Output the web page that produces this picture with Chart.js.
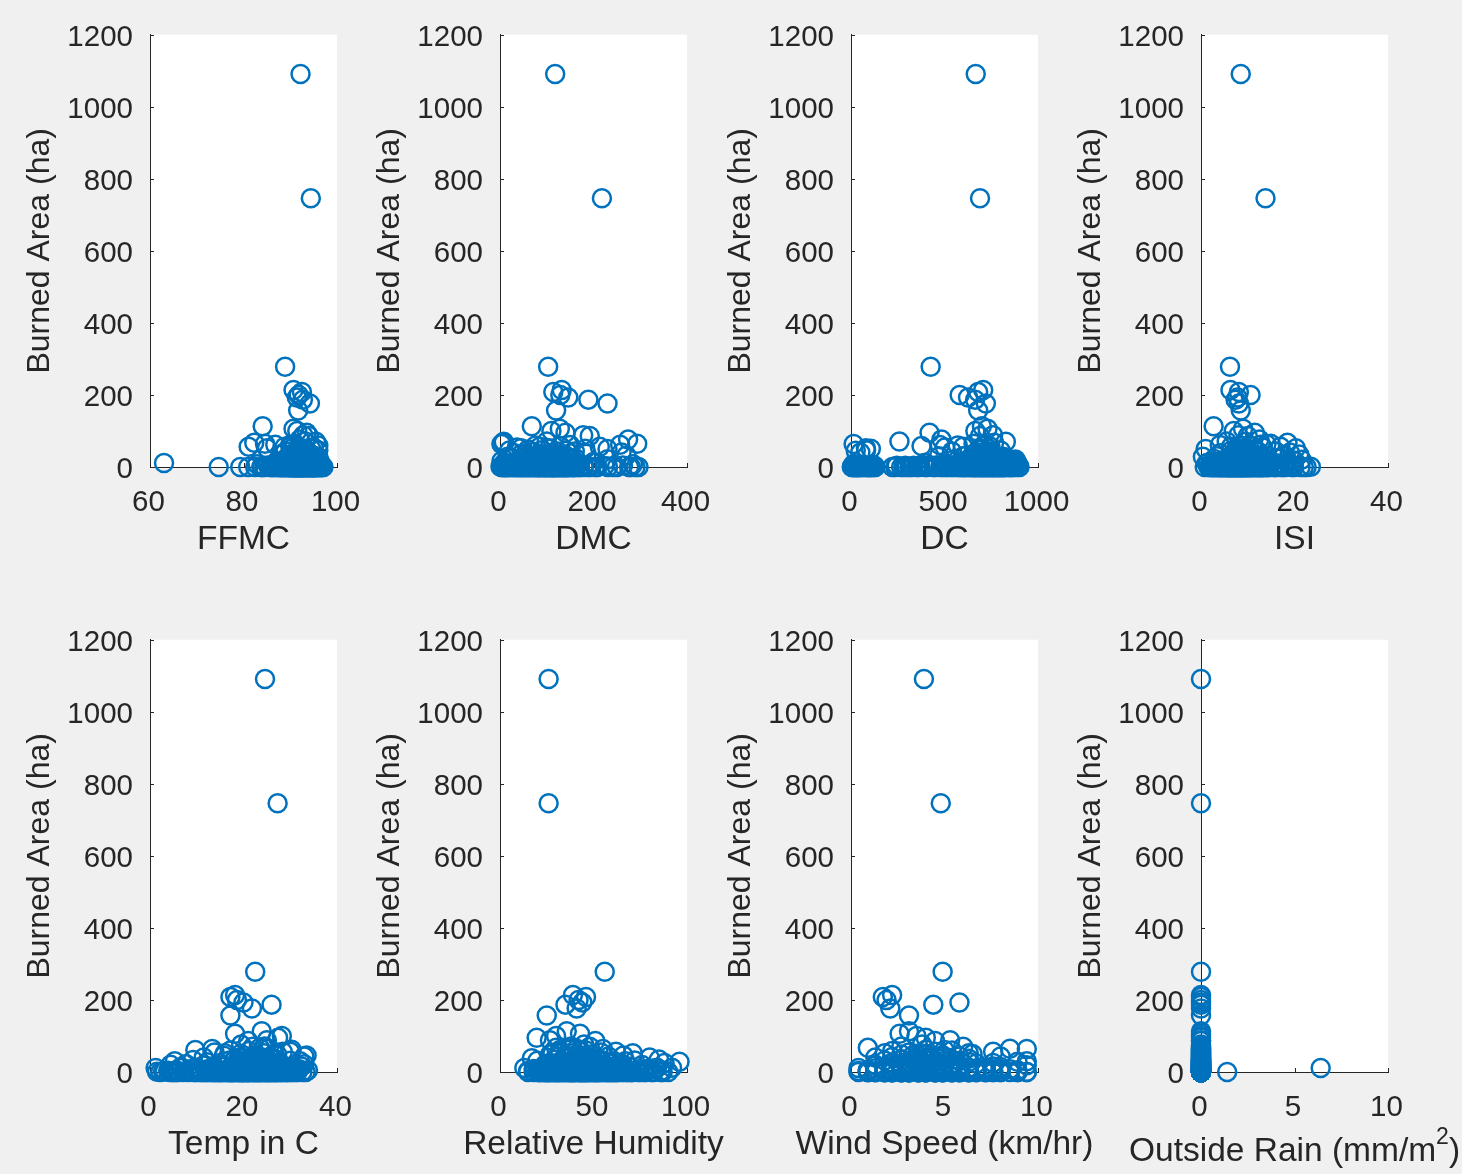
<!DOCTYPE html>
<html><head><meta charset="utf-8">
<script src="https://cdn.jsdelivr.net/npm/chart.js@4.4.1/dist/chart.umd.min.js"></script>
<style>
html,body{margin:0;padding:0;background:#f0f0f0;}
#wrap{position:relative;width:1462px;height:1174px;background:#f0f0f0;overflow:hidden;}
canvas{position:absolute;}
</style></head><body><div id="wrap"></div>
<script>
// ---------------- data (one entry per fire record) ----------------
const burnedArea = [
  1090.84, 746.28, 278.53, 214, 208, 200, 193, 187, 176, 157,
  113, 106, 100, 95, 88, 86, 76, 71, 70, 64, 61, 56, 52, 50, 46, 43, 40,
  0,0,0,0,0,0,0,0,0,0, 0,0,0,0,0,0,0,0,0,0, 0,0,0,0,0,0,0,0,0,0,
  0,0,0,0,0,0,0,0,0,0, 0,0,0,0,0,0,0,0,0,0, 0,0,0,0,0,
  0.4,0.6,0.9,1.1,1.3,1.5,1.9,2.1,2.4,2.9, 3.2,3.5,3.8,4.2,4.6,5.0,5.4,5.8,6.3,6.8,
  7.3,7.8,8.2,8.7,9.3,9.9,10.5,11.2,11.8,12.5, 13.1,13.8,14.6,15.3,16.1,17.0,17.9,18.8,19.6,20.5,
  21.5,22.5,23.4,24.3,25.3,26.4,27.4,28.7,29.9,31.1, 32.1,33.5,35.0,36.9,38.5,
  0.5,1.0,1.6,2.2,3.0,4.0,5.5,7.0,9.0,11.0,
  0,0,0,0,0,0,0,0,0,0, 0,0,0,0,0,0,0,0,0,0, 0,0,0,0,0,0,0,0,0,0, 0,0,0,0,0,0,0,0,0,0,
  0.5,0.7,0.8,1.0,1.2,1.4,1.6,1.8,2.0,2.3, 2.6,2.8,3.1,3.3,3.6,3.9,4.3,4.7,5.1,5.6,
  6.0,6.5,7.0,7.5,8.0,8.5,9.0,9.6,10.1,10.7, 11.3,12.0,12.7,13.4,14.2,15.0,15.8,16.6,17.5,18.4,
  19.3,20.2,21.1,22.1,23.1,24.2,25.3,26.5,27.7,28.9, 30.1,31.4,32.6,34.0,35.3,36.8,38.3,39.9,41.5,43.2,
  44.9,46.7,48.5,50.4,52.3,54.2,56.1,58.0,60.0,62.0, 64.5,67.0,30.0,20.0,12.0,8.0,5.0,3.0,2.0,1.0
];
const ffmcValues = [
  92.2, 94.4, 88.9, 90.7, 92.5, 91.8, 91.4, 92.7, 94.2, 91.7,
  84.1, 90.7, 91.5, 93.5, 92.8, 94.0, 92.0, 93.2, 95.5, 91.0, 90.0, 81.1, 85.0, 94.5, 96.0, 89.0, 93.8,
  91.0, 92.1, 93.7, 90.6, 88.0, 94.8, 95.2, 86.3, 89.4, 91.7,
  92.5, 93.3, 90.1, 84.5, 96.0, 94.3, 87.2, 90.9, 91.4, 92.8,
  74.7, 79.3, 81.0, 85.6, 93.0, 95.8, 96.5, 89.7, 88.8, 92.2,
  94.0, 90.4, 91.9, 93.6, 82.5, 83.8, 87.9, 95.0, 96.9, 92.6,
  91.2, 89.0, 94.6, 90.0, 93.9, 86.9, 92.0, 95.5, 88.4, 91.6,
  84.0, 93.4, 90.7, 94.9, 97.1,
  92.4, 90.2, 91.8, 93.1, 88.6, 94.4, 95.1, 87.5, 89.9, 92.9,
  91.1, 93.5, 90.5, 85.2, 96.2, 94.1, 86.7, 90.8, 91.5, 92.3,
  82.9, 88.2, 93.8, 95.6, 89.2, 92.7, 91.3, 94.7, 90.3, 93.2,
  96.4, 87.0, 91.7, 92.0, 94.2, 89.6, 95.3, 90.9, 93.0, 88.9,
  91.9, 94.5, 92.6, 96.1, 90.1, 89.3, 93.6, 95.9, 91.0, 92.5,
  94.8, 90.6, 88.1, 93.3, 91.4,
  92.1, 89.8, 94.0, 91.2, 95.7, 86.1, 93.9, 90.0, 92.8, 63.0,
  90.3, 91.6, 92.9, 94.1, 95.4, 89.1, 87.6, 93.4, 96.3, 91.1,
  88.3, 92.4, 94.6, 90.8, 86.4, 93.7, 95.0, 91.9, 89.5, 92.0,
  94.3, 90.0, 87.9, 93.1, 95.7, 91.4, 88.7, 92.6, 96.6, 90.5,
  93.9, 89.8, 91.3, 94.9, 92.3, 85.9, 90.9, 93.0, 95.2, 91.8,
  92.6, 90.4, 94.2, 88.5, 91.7, 95.3, 93.4, 89.7, 92.1, 96.2,
  90.9, 94.0, 87.3, 92.8, 91.2, 93.6, 95.8, 89.0, 92.4, 90.2,
  94.5, 91.5, 93.2, 88.0, 95.1, 90.7, 92.9, 94.8, 91.0, 93.5,
  89.4, 92.2, 95.6, 90.6, 93.8, 91.8, 94.3, 92.5, 90.1, 93.0,
  91.4, 94.7, 92.0, 93.3, 90.8, 92.7, 91.6, 94.1, 93.9, 92.3,
  91.1, 93.1, 92.8, 91.9, 94.4, 90.5, 92.6, 93.7, 91.3, 92.9,
  92.1, 93.4, 91.7, 90.3, 92.5, 95.0, 88.8, 90.0, 96.0, 86.8,
  84.6, 82.3, 89.9, 93.6, 91.5, 94.6, 92.2, 95.4, 90.4, 87.7
];
const dmcValues = [
  118, 218, 103, 132, 114, 129, 146, 189, 230, 120,
  68, 128, 110, 140, 178, 192, 274, 100, 8, 3, 150, 85, 45, 230, 20, 160, 260,
  108.3, 85.1, 142.4, 25.6, 63.5, 99.0, 129.5, 117.9, 35.8, 149.3,
  4.6, 73.2, 52.0, 160.1, 231.1, 276.3, 88.0, 111.7, 135.8, 14.7,
  43.9, 102.3, 178.9, 121.1, 56.2, 290.0, 193.0, 92.9, 133.3, 30.2,
  79.5, 146.4, 115.2, 2.9, 68.6, 41.5, 124.1, 208.0, 96.1, 157.3,
  18.0, 138.0, 82.3, 250.0, 104.8, 47.1, 170.1, 59.4, 127.4, 9.8,
  188.0, 113.8, 76.0, 296.3, 140.2,
  100.6, 130.1, 86.9, 25.0, 145.4, 117.2, 66.5, 38.0, 154.2, 108.0,
  5.2, 92.0, 122.0, 58.0, 180.0, 135.0, 23.3, 99.6, 71.4, 112.4,
  284.5, 141.3, 49.5, 167.2, 79.0, 128.9, 12.1, 104.2, 145.0, 35.0,
  90.0, 200.0, 118.4, 62.1, 137.5, 3.2, 83.8, 150.6, 44.2, 108.8,
  230.0, 125.9, 95.0, 27.7, 160.8, 73.1, 119.6, 16.4, 139.4, 55.4,
  270.5, 102.0, 86.4, 185.0, 30.7,
  114.0, 1.1, 96.0, 142.0, 20.0, 263.0, 77.0, 122.9, 48.0, 9.0,
  112.0, 87.3, 35.2, 141.8, 66.1, 124.7, 15.3, 97.4, 153.8, 52.6,
  203.1, 81.6, 119.3, 29.4, 136.4, 71.9, 106.5, 8.1, 163.2, 44.7,
  91.8, 128.3, 57.9, 280.2, 100.9, 22.8, 146.6, 77.5, 115.6, 39.1,
  171.0, 63.4, 132.7, 11.6, 94.6, 155.5, 48.8, 241.7, 84.2, 108.9,
  121.5, 34.6, 98.8, 142.9, 60.3, 80.1, 126.1, 17.2, 111.3, 149.9,
  70.6, 102.8, 26.3, 135.1, 89.3, 158.4, 42.1, 117.1, 75.3, 139.7,
  95.7, 54.3, 129.4, 106.1, 32.5, 145.1, 86.6, 113.6, 64.9, 168.0,
  103.4, 121.2, 49.6, 137.3, 92.3, 79.6, 110.2, 58.7, 131.4, 99.2,
  85.5, 118.6, 72.4, 134.2, 101.5, 64.0, 125.3, 108.6, 90.7, 143.5,
  55.7, 115.9, 82.8, 129.8, 96.4, 46.2, 151.0, 111.8, 70.1, 123.6,
  142.3, 88.9, 59.8, 182.5, 105.2, 36.4, 213.4, 128.8, 76.2, 257.0,
  293.5, 7.0, 116.5, 46.9, 199.3, 135.5, 26.9, 223.7, 98.1, 61.6
];
const dcValues = [
  667, 690, 426, 707, 680, 581, 626, 664, 721, 680,
  700, 730, 665, 420, 760, 690, 484, 259, 828, 14, 475, 600, 80, 740, 800, 540, 50,
  15.0, 43.6, 80.8, 102.2, 8.8, 120.0, 61.1, 26.6, 95.0, 35.4,
  221.0, 268.0, 313.4, 349.3, 395.0, 440.9, 477.9, 506.0, 533.0, 574.3,
  601.4, 621.7, 648.0, 666.7, 681.0, 698.6, 715.1, 733.3, 748.0, 763.0,
  777.0, 795.9, 811.0, 826.0, 843.0, 856.0, 871.0, 886.0, 901.0, 668.0,
  692.0, 706.0, 724.0, 739.0, 757.0, 770.0, 786.0, 802.0, 817.0, 610.0,
  590.0, 636.0, 655.0, 545.0, 298.0,
  20.0, 57.3, 74.0, 110.0, 30.0, 128.0, 49.0, 6.0, 88.0, 70.0,
  245.0, 290.0, 335.0, 370.0, 412.0, 460.0, 498.0, 520.0, 560.0, 582.0,
  605.0, 628.0, 641.0, 660.0, 672.0, 688.0, 703.0, 719.0, 728.0, 742.0,
  752.0, 768.0, 780.0, 790.0, 806.0, 820.0, 835.0, 850.0, 865.0, 880.0,
  674.0, 697.0, 711.0, 736.0, 760.0, 773.0, 799.0, 814.0, 600.0, 615.0,
  650.0, 680.0, 700.0, 725.0, 745.0,
  12.0, 66.0, 100.0, 355.0, 690.0, 735.0, 585.0, 760.0, 830.0, 890.0,
  18.7, 52.2, 89.4, 112.8, 31.6, 70.5, 130.2, 40.8, 99.9, 4.1,
  236.0, 280.7, 325.9, 362.4, 405.3, 452.6, 491.2, 515.8, 556.7, 578.4,
  596.9, 613.5, 633.0, 645.2, 658.9, 670.6, 685.4, 695.8, 709.0, 717.3,
  731.2, 744.3, 755.5, 766.1, 783.2, 793.1, 808.7, 823.2, 846.1, 862.2,
  671.3, 693.5, 704.6, 718.5, 734.2, 749.4, 762.1, 775.7, 788.2, 801.7,
  813.3, 831.0, 848.5, 866.0, 881.8, 896.7, 608.5, 627.3, 646.5, 661.8,
  679.7, 702.1, 721.6, 738.7, 754.3, 770.2, 797.3, 612.0, 640.6, 686.9,
  715.8, 744.9, 664.3, 692.4, 728.3, 756.8, 780.5, 706.4, 733.9, 682.2,
  699.9, 742.0, 767.6, 653.4, 677.1, 713.0, 690.1, 727.1, 751.2, 668.9,
  700.2, 747.3, 675.2, 720.9, 696.5, 736.4, 659.8, 684.0, 711.5, 741.1,
  25.4, 80.7, 700.5, 106.2, 690.3, 502.1, 745.6, 377.1, 570.6, 712.8,
  655.2, 765.4, 470.4, 545.9, 397.8, 14.2, 122.5, 35.9, 86.1, 64.8
];
const isiValues = [
  8.5, 13.8, 6.2, 6.3, 8.1, 10.6, 7.8, 7.4, 8.1, 8.5,
  2.7, 9.0, 7.0, 11.5, 8.0, 10.0, 12.5, 5.5, 9.5, 14.0, 4.0, 17.0, 20.3, 1.0, 6.5, 16.0, 19.0,
  5.1, 6.7, 9.2, 8.1, 3.5, 11.3, 7.0, 13.2, 4.4, 10.1,
  6.2, 8.6, 12.5, 2.2, 9.6, 7.5, 14.3, 5.8, 10.8, 16.0,
  0.8, 4.0, 8.4, 6.9, 11.9, 3.0, 9.0, 13.8, 7.8, 5.3,
  18.0, 10.4, 6.4, 12.0, 1.6, 8.9, 15.4, 4.8, 7.3, 22.6,
  9.9, 5.6, 11.5, 3.8, 8.2, 17.0, 6.0, 13.0, 2.6, 10.0,
  7.1, 19.5, 4.5, 12.8, 21.3,
  6.3, 8.8, 10.7, 4.9, 7.7, 12.2, 5.0, 9.4, 14.7, 3.3,
  11.0, 7.4, 6.6, 16.8, 2.0, 8.0, 13.5, 5.7, 10.2, 9.1,
  4.2, 7.2, 15.0, 11.7, 6.1, 1.2, 8.5, 12.6, 18.8, 5.4,
  9.7, 3.6, 7.9, 14.0, 10.5, 6.8, 20.0, 4.6, 8.3, 13.3,
  11.4, 2.8, 9.3, 16.1, 7.6, 5.9, 12.1, 0.4, 10.9, 8.7,
  17.8, 6.5, 21.0, 9.8, 4.1,
  7.0, 5.2, 11.2, 3.1, 8.6, 14.5, 6.9, 19.3, 9.5, 2.4,
  5.5, 7.3, 9.1, 10.9, 3.9, 12.7, 6.4, 8.3, 14.6, 2.9,
  11.1, 4.7, 7.9, 15.9, 9.8, 6.0, 13.1, 1.9, 8.9, 10.3,
  5.0, 12.3, 7.6, 17.5, 3.4, 9.4, 6.7, 11.8, 19.9, 4.3,
  8.1, 14.2, 5.9, 10.6, 2.4, 13.6, 7.1, 22.0, 9.0, 6.2,
  7.5, 9.6, 4.4, 11.6, 6.6, 8.4, 13.9, 5.3, 10.1, 3.0,
  8.8, 6.9, 12.4, 7.7, 15.5, 9.2, 4.9, 10.8, 6.3, 11.9,
  7.2, 9.9, 5.6, 13.0, 8.2, 10.4, 6.1, 16.5, 7.8, 12.9,
  9.3, 4.0, 11.3, 8.6, 6.8, 14.1, 10.0, 7.4, 5.1, 12.0,
  8.5, 10.7, 7.0, 9.5, 11.4, 6.5, 13.4, 8.0, 10.2, 9.7,
  7.9, 12.5, 9.0, 6.9, 11.0, 8.3, 10.5, 7.3, 9.8, 12.2,
  10.1, 8.7, 11.6, 7.6, 9.4, 13.2, 6.4, 10.9, 8.4, 12.8,
  14.9, 18.5, 3.5, 21.5, 1.4, 16.3, 5.7, 19.0, 2.2, 23.5
];
const tempValues = [
  24.6, 27.3, 22.5, 18.2, 17.2, 18.6, 20.0, 26.0, 21.8, 17.2,
  23.9, 18.2, 28.2, 27.4, 25.0, 21.0, 19.5, 24.5, 22.0, 13.3, 9.7, 30.0, 16.0, 26.5, 33.5, 33.0, 11.5,
  17.8, 21.3, 14.6, 23.9, 19.2, 25.4, 11.8, 27.1, 16.3, 20.5,
  5.1, 4.2, 22.7, 18.4, 29.0, 13.2, 24.6, 9.8, 26.3, 15.7,
  21.9, 30.2, 8.2, 19.9, 17.1, 28.3, 12.4, 23.2, 6.0, 25.9,
  2.2, 20.1, 16.9, 31.5, 14.0, 22.1, 10.4, 27.8, 18.9, 24.0,
  32.6, 7.1, 19.6, 15.1, 26.8, 21.0, 13.7, 23.5, 4.8, 29.6,
  17.4, 11.0, 25.0, 33.3, 20.8,
  18.6, 22.4, 15.9, 24.9, 20.3, 26.6, 12.9, 28.7, 17.6, 21.6,
  5.8, 3.9, 23.0, 19.0, 30.8, 14.2, 25.7, 10.9, 27.4, 16.6,
  22.9, 31.9, 8.8, 20.9, 18.1, 29.3, 13.5, 1.2, 6.4, 26.1,
  19.4, 21.2, 16.0, 32.4, 15.0, 23.8, 11.5, 28.0, 19.7, 24.4,
  33.0, 7.7, 20.6, 14.8, 27.0, 22.0, 12.2, 25.2, 5.3, 30.0,
  17.0, 9.2, 26.9, 18.3, 23.3,
  1.5, 4.6, 12.7, 20.0, 5.5, 25.6, 16.5, 29.9, 22.6, 10.0,
  16.8, 19.5, 22.2, 24.8, 13.9, 27.5, 18.0, 21.1, 25.6, 15.4,
  20.7, 23.6, 12.0, 28.9, 17.3, 26.0, 9.4, 22.8, 19.1, 30.5,
  14.5, 24.5, 18.7, 27.0, 11.2, 21.5, 25.3, 16.2, 29.4, 20.0,
  23.1, 13.0, 26.6, 17.8, 31.2, 22.4, 5.6, 19.8, 28.1, 15.0,
  21.4, 18.5, 24.1, 16.4, 26.2, 20.4, 13.6, 23.7, 27.7, 19.2,
  22.6, 15.6, 25.0, 21.8, 17.0, 28.5, 19.9, 24.7, 14.3, 26.9,
  20.6, 23.4, 18.2, 27.3, 21.0, 25.5, 16.9, 22.9, 29.2, 19.6,
  24.3, 17.6, 26.4, 20.2, 23.0, 18.8, 25.9, 21.7, 15.3, 27.9,
  22.1, 19.3, 24.6, 20.9, 26.7, 18.4, 23.3, 21.3, 25.1, 19.7,
  20.8, 24.0, 22.5, 18.0, 26.3, 21.6, 23.8, 19.0, 25.8, 22.7,
  15.8, 22.3, 27.2, 19.4, 24.4, 13.8, 28.4, 21.2, 17.2, 30.3,
  25.4, 23.5, 32.1, 4.4, 6.8, 12.5, 33.8, 3.2, 8.5, 2.8
];
const rhValues = [
  26, 26, 56, 39, 46, 42, 44, 35, 41, 25,
  35.7, 42.8, 30, 19.6, 26.7, 51, 45, 38, 48, 55, 32, 62, 71, 28, 66, 58, 80,
  33, 45, 27, 51, 38, 62, 24, 42, 56, 30,
  71, 36, 48, 21, 59, 40, 66, 29, 44, 53,
  18, 35, 77, 46, 26, 61, 39, 50, 82, 32,
  43, 57, 23, 68, 37, 47, 28, 54, 74, 41,
  34, 63, 25, 49, 86, 31, 58, 39, 45, 22,
  70, 52, 90, 43, 15,
  35, 47, 28, 53, 40, 64, 25, 44, 58, 31,
  73, 37, 49, 22, 60, 41, 67, 30, 45, 55,
  19, 36, 79, 48, 27, 63, 42, 13, 84, 33,
  46, 57, 24, 69, 38, 50, 29, 56, 76, 43,
  34, 65, 26, 52, 88, 32, 59, 96, 61, 20,
  72, 54, 85, 44, 17,
  29, 40, 55, 24, 46, 66, 33, 80, 38, 50,
  31, 44, 27, 52, 39, 61, 24, 47, 57, 34,
  68, 36, 50, 21, 63, 42, 75, 29, 46, 55,
  20, 38, 81, 45, 25, 59, 40, 53, 87, 32,
  48, 60, 26, 70, 37, 51, 30, 65, 78, 43,
  33, 46, 28, 54, 41, 62, 23, 49, 58, 36,
  69, 38, 51, 22, 64, 43, 73, 30, 47, 56,
  21, 39, 80, 44, 27, 60, 41, 52, 83, 33,
  35, 45, 30, 48, 40, 55, 28, 42, 62, 38,
  34, 44, 31, 50, 39, 58, 27, 46, 36, 53,
  42, 33, 47, 29, 40, 52, 35, 45, 31, 38,
  44, 35, 49, 27, 39, 54, 32, 43, 46, 37,
  41, 30, 67, 24, 92, 18, 77, 15, 86, 71
];
const windValues = [
  3.9, 4.8, 4.9, 2.2, 1.7, 1.9, 5.8, 4.4, 2.1, 3.1,
  3.1, 2.6, 3.5, 4.0, 5.3, 4.5, 3.8, 2.7, 6.0, 9.4, 5.0, 7.6, 1.8, 6.5, 3.3, 8.0, 1.3,
  4.0, 2.7, 4.9, 3.1, 5.4, 1.8, 3.6, 6.3, 2.2, 4.5,
  0.9, 5.8, 3.1, 7.2, 2.7, 4.0, 1.3, 6.7, 3.6, 4.9,
  8.0, 2.2, 5.4, 4.5, 0.4, 3.1, 7.6, 1.8, 5.8, 2.7,
  4.0, 8.9, 3.6, 6.3, 2.2, 4.9, 1.3, 9.4, 3.1, 5.4,
  2.7, 4.5, 7.2, 1.8, 6.7, 3.6, 4.0, 8.5, 2.2, 5.8,
  0.9, 4.9, 3.1, 6.3, 4.5,
  3.6, 2.2, 4.5, 5.4, 2.7, 4.0, 1.3, 6.3, 3.1, 4.9,
  1.8, 5.8, 2.7, 7.6, 3.6, 4.5, 0.9, 6.7, 4.0, 2.2,
  8.5, 3.1, 4.9, 5.4, 1.8, 2.7, 7.2, 0.4, 6.3, 3.6,
  4.5, 8.0, 2.2, 5.8, 3.1, 4.9, 1.3, 9.4, 2.7, 5.4,
  3.6, 4.0, 6.7, 2.2, 7.6, 4.5, 3.1, 8.9, 4.9, 5.8,
  1.8, 4.0, 2.7, 6.3, 3.6,
  4.0, 2.2, 5.4, 3.1, 6.3, 0.9, 4.5, 7.2, 2.7, 3.6,
  4.0, 3.1, 4.9, 2.2, 5.4, 2.7, 3.6, 6.3, 1.8, 4.5,
  5.8, 1.3, 4.0, 7.6, 3.1, 4.9, 2.2, 6.7, 3.6, 8.9,
  2.7, 4.5, 5.4, 0.9, 7.2, 3.1, 4.0, 5.8, 2.2, 9.4,
  4.9, 3.6, 6.3, 1.8, 4.5, 8.0, 2.7, 5.4, 3.1, 4.0,
  3.6, 4.5, 2.7, 5.4, 4.0, 3.1, 6.3, 2.2, 4.9, 5.8,
  3.6, 1.8, 4.5, 7.2, 2.7, 4.0, 5.4, 3.1, 6.7, 4.9,
  2.2, 4.0, 3.6, 8.0, 5.8, 2.7, 4.5, 3.1, 6.3, 1.3,
  4.9, 3.6, 5.4, 2.7, 4.0, 7.6, 3.1, 4.5, 2.2, 5.8,
  4.0, 3.1, 4.9, 3.6, 2.7, 5.4, 4.5, 2.2, 6.3, 3.6,
  4.5, 3.1, 4.0, 5.4, 2.7, 4.9, 3.6, 4.0, 2.2, 5.8,
  3.6, 4.9, 2.7, 4.0, 6.3, 3.1, 4.5, 2.2, 5.4, 4.0,
  8.5, 0.9, 9.4, 1.3, 7.2, 6.7, 8.9, 0.4, 7.6, 8.0
];
const rainValues = [
  0,0,0,0,0,0,0,0,0,0,
  0,0,0,0,0,0,0,0,0,0,0,0,0,0,0,0,0,
  0,0,0,0,1.4,0,0,0,0,0, 0,0,0,0,0,0,0,0,0,0, 0,0,0,0,0,0,0,0,0,0,
  0,0,0,0,0,0,0,0,0,0, 0,0,0,0,0,0,0,0,0,0, 0,0,0,0,0,
  0,0,0,0,0,0,0,0,0,0, 0,0,0,0,0,0,0,0,0,0, 0,0,0,0,0,0,0,0,0,0,
  0,0,0,0,0,0,0,0,0,0, 0,0,0,0,0,0,0,0,0,0, 0,0,0,0,0,
  0,0,0,0,0,0,0,0,0,6.4,
  0,0,0,0,0,0,0,0,0,0, 0,0,0,0,0,0,0,0,0,0, 0,0,0,0,0,0,0,0,0,0, 0,0,0,0,0,0,0,0,0,0,
  0,0,0,0,0,0,0,0,0,0, 0,0,0,0,0,0,0,0,0,0, 0,0,0,0,0,0,0,0,0,0, 0,0,0,0,0,0,0,0,0,0,
  0,0,0,0,0,0,0,0,0,0, 0,0,0,0,0,0,0,0,0,0, 0,0,0,0,0,0,0,0,0,0, 0,0,0,0,0,0,0,0,0,0
];

// ---------------- tick labels ----------------
const areaTicks = [0, 200, 400, 600, 800, 1000, 1200];
const ffmcTicks = [60, 80, 100];
const dmcTicks = [0, 200, 400];
const dcTicks = [0, 500, 1000];
const isiTicks = [0, 20, 40];
const tempTicks = [0, 20, 40];
const rhTicks = [0, 50, 100];
const windTicks = [0, 5, 10];
const rainTicks = [0, 5, 10];

const yTitle = 'Burned Area (ha)';
// each x title: [main text, superscript, trailing text]
const panelTitles = [
  ['FFMC', '', ''], ['DMC', '', ''], ['DC', '', ''], ['ISI', '', ''],
  ['Temp in C', '', ''], ['Relative Humidity', '', ''], ['Wind Speed (km/hr)', '', ''],
  ['Outside Rain (mm/m', '2', ')']
];
const panelValues = [ffmcValues, dmcValues, dcValues, isiValues, tempValues, rhValues, windValues, rainValues];
const panelTicks = [ffmcTicks, dmcTicks, dcTicks, isiTicks, tempTicks, rhTicks, windTicks, rainTicks];

// ---------------- drawing ----------------
const FONT = '"Liberation Sans", Arial, Helvetica, sans-serif';
const AX = '#262626';
const BLUE = '#0072BD';
const colLeft = [150, 500, 851, 1201];
const rowTop = [31, 636];
const PLOT_W = 187, PLOT_H = 436, TOP_PAD = 31, LEFT_W = 150, X_H = 100, CW = 420;

const framePlugin = {
  id: 'frame',
  beforeDraw(chart) {
    const a = chart.chartArea, ctx = chart.ctx;
    ctx.save();
    ctx.fillStyle = '#ffffff';
    ctx.fillRect(a.left, a.top, a.right - a.left, a.bottom - a.top);
    ctx.restore();
  },
  beforeDatasetsDraw(chart) {
    const a = chart.chartArea, ctx = chart.ctx;
    const xs = chart.scales.x, ys = chart.scales.y;
    ctx.save();
    ctx.strokeStyle = AX;
    ctx.lineWidth = 1;
    ctx.beginPath();
    ys.ticks.forEach(t => {
      const p = Math.round(ys.getPixelForValue(t.value)) + 0.5;
      ctx.moveTo(a.left, p); ctx.lineTo(a.left + 4, p);
    });
    xs.ticks.forEach(t => {
      const p = Math.round(xs.getPixelForValue(t.value)) + 0.5;
      ctx.moveTo(p, a.bottom); ctx.lineTo(p, a.bottom - 4);
    });
    ctx.stroke();
    ctx.restore();
  },
  afterDraw(chart) {
    const t = chart.options.plugins.frame.title;
    const a = chart.chartArea, ctx = chart.ctx;
    ctx.save();
    ctx.fillStyle = AX;
    ctx.textBaseline = 'middle';
    ctx.textAlign = 'left';
    const mainFont = '33.5px ' + FONT, supFont = '23px ' + FONT;
    ctx.font = mainFont;
    const w1 = ctx.measureText(t[0]).width, w3 = ctx.measureText(t[2]).width;
    ctx.font = supFont;
    const w2 = t[1] ? ctx.measureText(t[1]).width : 0;
    const cx = (a.left + a.right) / 2;
    const y = a.bottom + (t[1] ? 80 : 73);
    let x = cx - (w1 + w2 + w3) / 2;
    ctx.font = mainFont; ctx.fillText(t[0], x, y); x += w1;
    if (t[1]) { ctx.font = supFont; ctx.fillText(t[1], x, y - 14); x += w2; }
    if (t[2]) { ctx.font = mainFont; ctx.fillText(t[2], x, y); }
    ctx.restore();
  }
};

const wrap = document.getElementById('wrap');
panelTitles.forEach((title, k) => {
  const col = k % 4, row = Math.floor(k / 4);
  const cv = document.createElement('canvas');
  cv.width = CW; cv.height = TOP_PAD + PLOT_H + X_H;
  cv.style.left = (colLeft[col] - LEFT_W) + 'px';
  cv.style.top = (rowTop[row] - TOP_PAD) + 'px';
  cv.style.width = cv.width + 'px'; cv.style.height = cv.height + 'px';
  wrap.appendChild(cv);
  const xv = panelValues[k];
  const xt = panelTicks[k];
  const pts = burnedArea.map((a, i) => ({ x: xv[i], y: a }));
  new Chart(cv, {
    type: 'scatter',
    data: { datasets: [{
      data: pts,
      pointStyle: 'circle',
      pointRadius: 9,
      pointBorderWidth: 2.5,
      pointBorderColor: BLUE,
      borderColor: BLUE,
      pointBackgroundColor: 'rgba(0,0,0,0)',
      backgroundColor: 'rgba(0,0,0,0)',
      clip: false,
      showLine: false
    }] },
    options: {
      responsive: false,
      animation: false,
      devicePixelRatio: 1,
      events: [],
      layout: { autoPadding: false, padding: { left: 0, top: TOP_PAD, right: CW - LEFT_W - PLOT_W, bottom: 0 } },
      plugins: { legend: { display: false }, tooltip: { enabled: false }, frame: { title } },
      scales: {
        x: {
          type: 'linear', position: 'bottom',
          min: xt[0], max: xt[xt.length - 1],
          afterBuildTicks: s => { s.ticks = xt.map(v => ({ value: v })); },
          afterFit: s => { s.height = X_H; },
          grid: { display: false, drawTicks: false },
          border: { display: true, color: AX, width: 1 },
          ticks: { color: AX, font: { family: FONT, size: 29.5 }, padding: 18, maxRotation: 0, minRotation: 0,
                   autoSkip: false, labelOffset: -1.5, callback: v => String(v) },
          title: { display: false }
        },
        y: {
          type: 'linear', position: 'left',
          min: areaTicks[0], max: areaTicks[areaTicks.length - 1],
          afterBuildTicks: s => { s.ticks = areaTicks.map(v => ({ value: v })); },
          afterFit: s => { s.width = LEFT_W; },
          grid: { display: false, drawTicks: false },
          border: { display: true, color: AX, width: 1 },
          ticks: { color: AX, font: { family: FONT, size: 29.5 }, padding: 17, autoSkip: false, labelOffset: 3,
                   callback: v => String(v) },
          title: { display: true, text: yTitle, color: AX, font: { family: FONT, size: 32 },
                   padding: { top: 21, bottom: 0 } }
        }
      }
    },
    plugins: [framePlugin]
  });
});
</script>
</body></html>
